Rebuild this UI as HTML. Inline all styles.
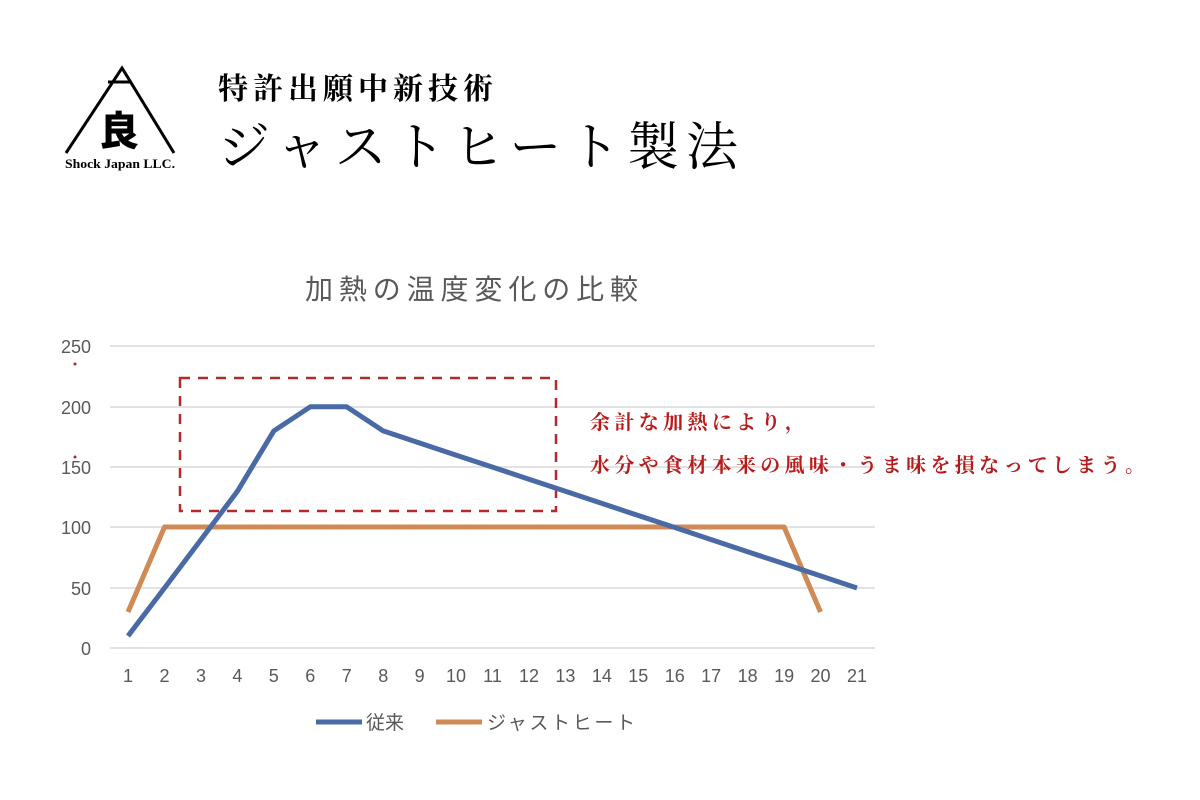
<!DOCTYPE html>
<html><head><meta charset="utf-8"><style>
body{margin:0;background:#fff;}
.w{position:relative;width:1200px;height:800px;overflow:hidden;font-family:"Liberation Sans","Noto Sans CJK JP",sans-serif;}
</style></head><body><div class="w">
<svg width="1200" height="800" style="position:absolute;left:0;top:0">
<polyline points="66,153 122,68 174,153" fill="none" stroke="#000" stroke-width="3"/>
<line x1="108" y1="82" x2="130" y2="82" stroke="#000" stroke-width="3"/>
<text x="119" y="145" font-size="40" font-weight="900" text-anchor="middle" font-family="Noto Sans CJK JP,sans-serif">良</text>
<text x="120" y="168" font-size="13" font-weight="bold" text-anchor="middle" font-family="Liberation Serif,serif" textLength="110" lengthAdjust="spacingAndGlyphs">Shock Japan LLC.</text>
<text x="218" y="99" font-size="30" font-weight="bold" font-family="Noto Serif CJK SC,serif" textLength="275">特許出願中新技術</text>
<text x="218" y="165" font-size="52" font-family="Noto Serif CJK SC,serif" textLength="520">ジャストヒート製法</text>
<text x="305" y="299" font-size="28" fill="#595959" font-family="Noto Sans CJK JP,sans-serif" textLength="333">加熱の温度変化の比較</text>
<g stroke="#d9d9d9" stroke-width="1.5">
<line x1="110" x2="875" y1="346" y2="346"/><line x1="110" x2="875" y1="407" y2="407"/>
<line x1="110" x2="875" y1="467" y2="467"/><line x1="110" x2="875" y1="527" y2="527"/>
<line x1="110" x2="875" y1="588" y2="588"/><line x1="110" x2="875" y1="648" y2="648"/>
</g>
<g font-size="18" fill="#595959" text-anchor="end">
<text x="91" y="353">250</text><text x="91" y="414">200</text><text x="91" y="474">150</text>
<text x="91" y="534">100</text><text x="91" y="595">50</text><text x="91" y="655">0</text>
</g>
<g font-size="18" fill="#595959" text-anchor="middle">
<text x="128" y="682">1</text><text x="164.5" y="682">2</text><text x="201" y="682">3</text><text x="237.4" y="682">4</text><text x="273.8" y="682">5</text><text x="310.3" y="682">6</text><text x="346.7" y="682">7</text><text x="383.2" y="682">8</text><text x="419.6" y="682">9</text><text x="456" y="682">10</text><text x="492.5" y="682">11</text><text x="529" y="682">12</text><text x="565.4" y="682">13</text><text x="601.9" y="682">14</text><text x="638.3" y="682">15</text><text x="674.8" y="682">16</text><text x="711.2" y="682">17</text><text x="747.6" y="682">18</text><text x="784.1" y="682">19</text><text x="820.5" y="682">20</text><text x="857" y="682">21</text>
</g>
<circle cx="75" cy="364" r="1.5" fill="#a52a2a"/><circle cx="75" cy="457" r="1.5" fill="#a52a2a"/>
<rect x="180" y="378" width="376" height="133" fill="none" stroke="#b22a2a" stroke-width="2.5" stroke-dasharray="10,8"/>
<polyline fill="none" stroke="#d08a55" stroke-width="5" stroke-linejoin="round" points="128,612 164.5,527 784.1,527 820.5,612"/>
<polyline fill="none" stroke="#4a6aa5" stroke-width="5" stroke-linejoin="round" points="128,636 164.5,588 201,539.6 237.4,491.3 273.8,430.9 310.3,406.8 346.7,406.8 383.2,430.9 419.6,443 456,455.1 492.5,467.1 529,479.2 565.4,491.3 601.9,503.4 638.3,515.5 674.8,527.5 711.2,539.6 747.6,551.7 784.1,563.8 820.5,575.9 857,588"/>
<line x1="316" x2="362" y1="722" y2="722" stroke="#4a6aa5" stroke-width="5"/>
<text x="366" y="729" font-size="19" fill="#595959" font-family="Noto Sans CJK JP,sans-serif">従来</text>
<line x1="436" x2="482" y1="722" y2="722" stroke="#d08a55" stroke-width="5"/>
<text x="487" y="729" font-size="19" fill="#595959" font-family="Noto Sans CJK JP,sans-serif" textLength="148">ジャストヒート</text>
<g font-size="20" fill="#b71c1c" font-weight="bold" font-family="Noto Serif CJK SC,serif">
<text x="590" y="429" textLength="215">余計な加熱により，</text>
<text x="590" y="472" textLength="555">水分や食材本来の風味・うま味を損なってしまう。</text>
</g>
</svg>
</div></body></html>
